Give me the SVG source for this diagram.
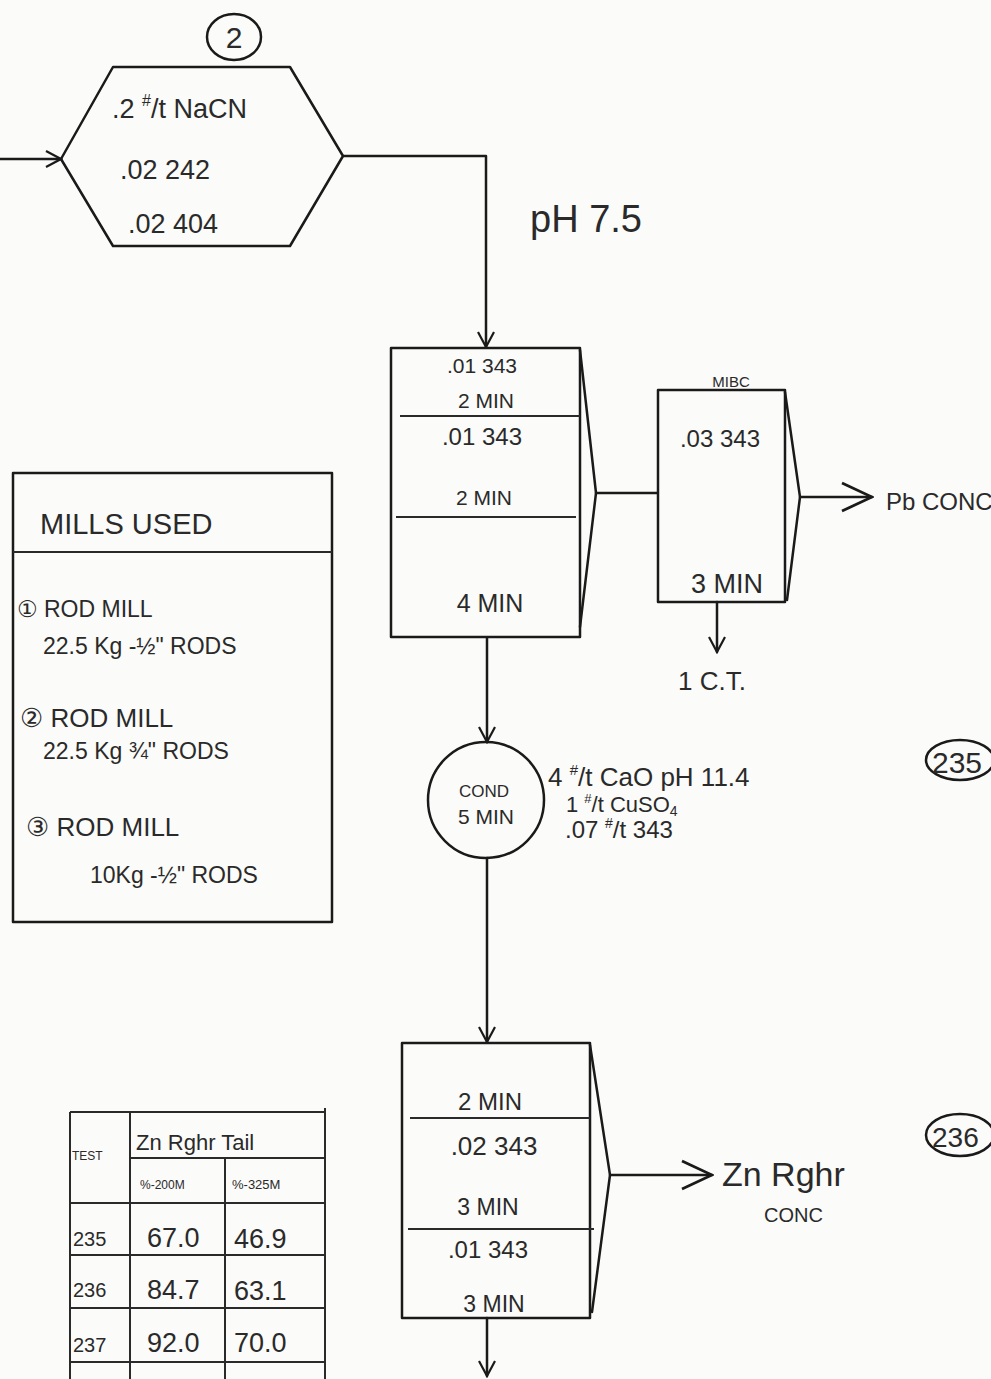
<svg xmlns="http://www.w3.org/2000/svg" width="991" height="1379" viewBox="0 0 991 1379">
<style>
  .ln{fill:none;stroke:#1a1a1a;stroke-width:2.5;stroke-linecap:round;stroke-linejoin:round}
  .thin{fill:none;stroke:#2a2a2a;stroke-width:2}
  .t{font-family:"Liberation Sans","DejaVu Sans",sans-serif;fill:#2a2a2a}
  .c{text-anchor:middle}
</style>
<defs>
  <marker id="ah" viewBox="0 0 20 20" refX="18" refY="10" markerWidth="20" markerHeight="20" markerUnits="userSpaceOnUse" orient="auto">
    <path d="M3,2 L18,10 L3,18" fill="none" stroke="#1a1a1a" stroke-width="2.2"/>
  </marker>
  <marker id="ahL" viewBox="0 0 36 36" refX="34" refY="18" markerWidth="36" markerHeight="36" markerUnits="userSpaceOnUse" orient="auto">
    <path d="M4,4 L34,18 L4,32" fill="none" stroke="#1a1a1a" stroke-width="2.8"/>
  </marker>
</defs>
<rect x="0" y="0" width="991" height="1379" fill="#fbfbf9"/>

<g id="connectors">
  <polyline class="ln" points="0,159 61,159" marker-end="url(#ah)"/>
  <polyline class="ln" points="343,156 486,156 486,347" marker-end="url(#ah)"/>
  <polyline class="ln" points="596,493 657,493"/>
  <polyline class="ln" points="800,497 872,497" marker-end="url(#ahL)"/>
  <polyline class="ln" points="717,602 717,652" marker-end="url(#ah)"/>
  <polyline class="ln" points="487,638 487,742" marker-end="url(#ah)"/>
  <polyline class="ln" points="487,858 487,1042" marker-end="url(#ah)"/>
  <polyline class="ln" points="610,1175 712,1175" marker-end="url(#ahL)"/>
  <polyline class="ln" points="487,1318 487,1376" marker-end="url(#ah)"/>
</g>

<g id="mill-marker">
  <ellipse class="ln" cx="234" cy="37" rx="27" ry="23"/>
  <text class="t c" x="234" y="48" font-size="30">2</text>
</g>

<g id="reagent-hexagon">
  <polygon class="ln" points="61,159 113,67 290,67 343,156 290,246 113,246"/>
  <text class="t" x="112" y="118" font-size="27">.2 <tspan font-size="16" dy="-12">#</tspan><tspan dy="12">/t  NaCN</tspan></text>
  <text class="t" x="120" y="179" font-size="27">.02  242</text>
  <text class="t" x="128" y="233" font-size="27">.02  404</text>
</g>

<g id="ph-label">
  <text class="t" x="530" y="232" font-size="38">pH 7.5</text>
</g>

<g id="float-cell-1">
  <rect class="ln" x="391" y="348" width="189" height="289"/>
  <polyline class="ln" points="580,350 596,493 580,627"/>
  <line class="thin" x1="400" y1="416" x2="580" y2="416"/>
  <line class="thin" x1="396" y1="517" x2="576" y2="517"/>
  <text class="t c" x="482" y="373" font-size="21">.01  343</text>
  <text class="t c" x="486" y="408" font-size="21">2 MIN</text>
  <text class="t c" x="482" y="445" font-size="24">.01  343</text>
  <text class="t c" x="484" y="505" font-size="21">2 MIN</text>
  <text class="t c" x="490" y="612" font-size="25">4 MIN</text>
</g>

<g id="float-cell-mibc">
  <rect class="ln" x="658" y="390" width="127" height="212"/>
  <polyline class="ln" points="785,392 800,497 787,600"/>
  <text class="t c" x="731" y="387" font-size="15">MIBC</text>
  <text class="t c" x="720" y="447" font-size="24">.03 343</text>
  <text class="t c" x="727" y="593" font-size="27">3 MIN</text>
</g>

<g id="pb-conc">
  <text class="t" x="886" y="510" font-size="24">Pb CONC</text>
</g>

<g id="cleaner-tail">
  <text class="t" x="678" y="690" font-size="26">1 C.T.</text>
</g>

<g id="mills-used">
  <rect class="ln" x="13" y="473" width="319" height="449"/>
  <line class="thin" x1="13" y1="552" x2="332" y2="552"/>
  <text class="t" x="40" y="534" font-size="29">MILLS USED</text>
  <text class="t" x="17" y="617" font-size="23">① ROD MILL</text>
  <text class="t" x="43" y="654" font-size="23">22.5 Kg  -½" RODS</text>
  <text class="t" x="20" y="727" font-size="26">② ROD MILL</text>
  <text class="t" x="43" y="759" font-size="23">22.5 Kg  ¾" RODS</text>
  <text class="t" x="26" y="836" font-size="26">③  ROD MILL</text>
  <text class="t" x="90" y="883" font-size="23">10Kg   -½" RODS</text>
</g>

<g id="conditioner">
  <circle class="ln" cx="486" cy="800" r="58"/>
  <text class="t c" x="484" y="797" font-size="17">COND</text>
  <text class="t c" x="486" y="824" font-size="21">5 MIN</text>
  <text class="t" x="548" y="786" font-size="26">4 <tspan font-size="15" dy="-11">#</tspan><tspan dy="11">/t CaO   pH 11.4</tspan></text>
  <text class="t" x="566" y="812" font-size="22">1 <tspan font-size="13" dy="-9">#</tspan><tspan dy="9">/t CuSO</tspan><tspan font-size="14" dy="4">4</tspan></text>
  <text class="t" x="565" y="838" font-size="24">.07 <tspan font-size="14" dy="-10">#</tspan><tspan dy="10">/t 343</tspan></text>
</g>

<g id="test-235">
  <ellipse class="ln" cx="960" cy="760" rx="34" ry="20"/>
  <text class="t" x="932" y="773" font-size="30">235</text>
</g>

<g id="float-cell-zn">
  <rect class="ln" x="402" y="1043" width="188" height="275"/>
  <polyline class="ln" points="590,1045 610,1175 592,1312"/>
  <line class="thin" x1="410" y1="1118" x2="590" y2="1118"/>
  <line class="thin" x1="408" y1="1229" x2="594" y2="1229"/>
  <text class="t c" x="490" y="1110" font-size="24">2 MIN</text>
  <text class="t c" x="494" y="1155" font-size="26">.02  343</text>
  <text class="t c" x="488" y="1215" font-size="23">3 MIN</text>
  <text class="t c" x="488" y="1258" font-size="24">.01  343</text>
  <text class="t c" x="494" y="1312" font-size="23">3 MIN</text>
</g>

<g id="zn-rghr-conc">
  <text class="t" x="722" y="1186" font-size="34">Zn Rghr</text>
  <text class="t" x="764" y="1222" font-size="20">CONC</text>
</g>

<g id="test-236">
  <ellipse class="ln" cx="960" cy="1135" rx="34" ry="21"/>
  <text class="t" x="932" y="1147" font-size="28">236</text>
</g>

<g id="results-table">
  <line class="thin" x1="70" y1="1112" x2="325" y2="1112"/>
  <line class="thin" x1="70" y1="1112" x2="70" y2="1379"/>
  <line class="thin" x1="130" y1="1112" x2="130" y2="1379"/>
  <line class="thin" x1="325" y1="1108" x2="325" y2="1379"/>
  <line class="thin" x1="130" y1="1158" x2="325" y2="1158"/>
  <line class="thin" x1="225" y1="1158" x2="225" y2="1379"/>
  <line class="thin" x1="70" y1="1203" x2="325" y2="1203"/>
  <line class="thin" x1="70" y1="1255" x2="325" y2="1255"/>
  <line class="thin" x1="70" y1="1308" x2="325" y2="1308"/>
  <line class="thin" x1="70" y1="1362" x2="325" y2="1362"/>
  <text class="t" x="72" y="1160" font-size="12">TEST</text>
  <text class="t" x="136" y="1150" font-size="22">Zn Rghr Tail</text>
  <text class="t" x="140" y="1189" font-size="12">%-200M</text>
  <text class="t" x="232" y="1189" font-size="13">%-325M</text>
  <text class="t" x="73" y="1246" font-size="20">235</text>
  <text class="t" x="147" y="1247" font-size="27">67.0</text>
  <text class="t" x="234" y="1248" font-size="27">46.9</text>
  <text class="t" x="73" y="1297" font-size="20">236</text>
  <text class="t" x="147" y="1299" font-size="27">84.7</text>
  <text class="t" x="234" y="1300" font-size="27">63.1</text>
  <text class="t" x="73" y="1352" font-size="20">237</text>
  <text class="t" x="147" y="1352" font-size="27">92.0</text>
  <text class="t" x="234" y="1352" font-size="27">70.0</text>
</g>
</svg>
